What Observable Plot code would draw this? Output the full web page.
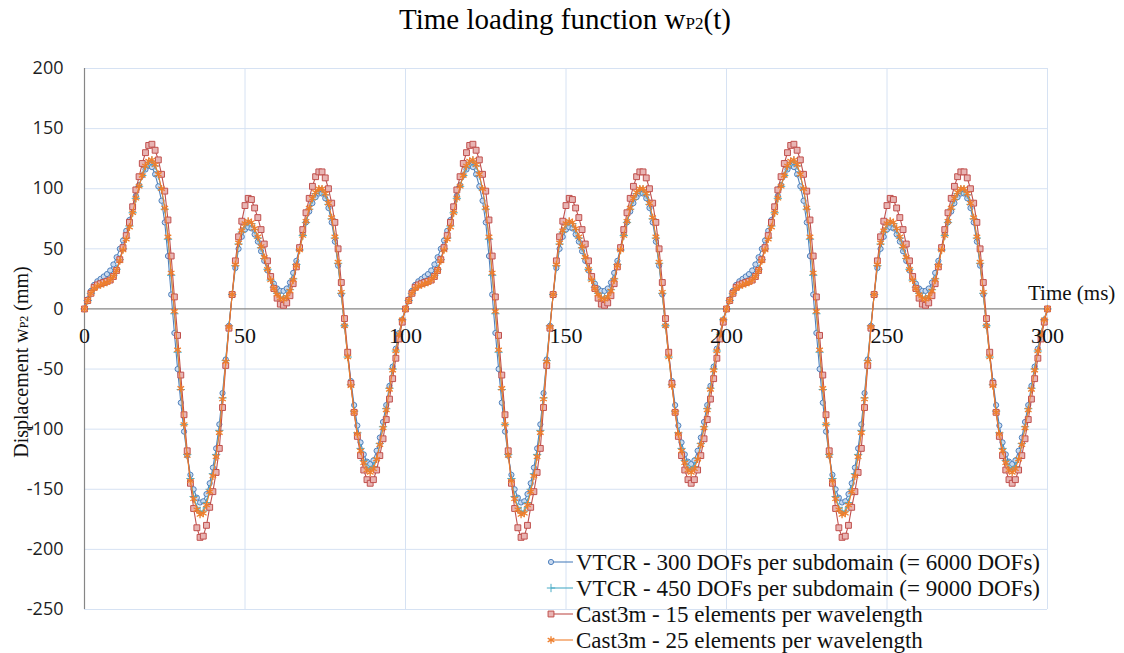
<!DOCTYPE html>
<html><head><meta charset="utf-8">
<script src="https://cdn.jsdelivr.net/npm/d3@7"></script>
<script src="https://cdn.jsdelivr.net/npm/@observablehq/plot@0.6"></script>
<style>body{margin:0;background:#fff} svg{display:block}</style>
</head><body><div id="chart"></div>
<script>
const seriesNames = [
  "VTCR - 300 DOFs per subdomain (= 6000 DOFs)",
  "VTCR - 450 DOFs per subdomain (= 9000 DOFs)",
  "Cast3m - 15 elements per wavelength",
  "Cast3m - 25 elements per wavelength"
];
const xTicks = [0, 50, 100, 150, 200, 250, 300];
const yTicks = [200, 150, 100, 50, 0, -50, -100, -150, -200, -250];

// time step 1 ms, t = 0..300
const vtcr300 = [
0,8,15,20,23,25,27,29,32,37,43,50,57,65,74,84,94,103,111,116,119,118,112,102,90,72,44,12,-20,-50,-78,-102,-122,-138,-150,-157,-161,-160,-154,-145,-132,-116,-96,-70,-42,-14,12,34,50,60,66,68,67,62,56,48,40,32,26,21,17,15,15,17,22,30,40,51,62,72,81,88,93,96,96,92,84,72,56,36,12,-14,-38,-60,-80,-97,-111,-121,-127,-129,-126,-118,-107,-94,-80,-64,-48,-33,-20,-9,
0,8,15,20,23,25,27,29,32,37,43,50,57,65,74,84,94,103,111,116,119,118,112,102,90,72,44,12,-20,-50,-78,-102,-122,-138,-150,-157,-161,-160,-154,-145,-132,-116,-96,-70,-42,-14,12,34,50,60,66,68,67,62,56,48,40,32,26,21,17,15,15,17,22,30,40,51,62,72,81,88,93,96,96,92,84,72,56,36,12,-14,-38,-60,-80,-97,-111,-121,-127,-129,-126,-118,-107,-94,-80,-64,-48,-33,-20,-9,
0,8,15,20,23,25,27,29,32,37,43,50,57,65,74,84,94,103,111,116,119,118,112,102,90,72,44,12,-20,-50,-78,-102,-122,-138,-150,-157,-161,-160,-154,-145,-132,-116,-96,-70,-42,-14,12,34,50,60,66,68,67,62,56,48,40,32,26,21,17,15,15,17,22,30,40,51,62,72,81,88,93,96,96,92,84,72,56,36,12,-14,-38,-60,-80,-97,-111,-121,-127,-129,-126,-118,-107,-94,-80,-64,-48,-33,-20,-9,
0];
const vtcr450 = [
0,7,13,17,20,21,22,23,25,28,33,41,50,59,69,80,92,102,111,118,122,123,119,111,99,83,58,28,-4,-36,-67,-96,-121,-141,-156,-165,-169,-168,-161,-150,-137,-121,-101,-74,-43,-14,12,36,54,64,70,72,71,66,59,51,42,33,24,18,13,10,9,11,16,25,37,49,61,72,83,91,96,99,99,95,87,75,59,38,13,-14,-40,-63,-85,-103,-116,-126,-132,-134,-131,-124,-112,-98,-83,-66,-50,-35,-21,-9,
0,7,13,17,20,21,22,23,25,28,33,41,50,59,69,80,92,102,111,118,122,123,119,111,99,83,58,28,-4,-36,-67,-96,-121,-141,-156,-165,-169,-168,-161,-150,-137,-121,-101,-74,-43,-14,12,36,54,64,70,72,71,66,59,51,42,33,24,18,13,10,9,11,16,25,37,49,61,72,83,91,96,99,99,95,87,75,59,38,13,-14,-40,-63,-85,-103,-116,-126,-132,-134,-131,-124,-112,-98,-83,-66,-50,-35,-21,-9,
0,7,13,17,20,21,22,23,25,28,33,41,50,59,69,80,92,102,111,118,122,123,119,111,99,83,58,28,-4,-36,-67,-96,-121,-141,-156,-165,-169,-168,-161,-150,-137,-121,-101,-74,-43,-14,12,36,54,64,70,72,71,66,59,51,42,33,24,18,13,10,9,11,16,25,37,49,61,72,83,91,96,99,99,95,87,75,59,38,13,-14,-40,-63,-85,-103,-116,-126,-132,-134,-131,-124,-112,-98,-83,-66,-50,-35,-21,-9,
0];
const cast15 = [
0,7,13,18,20,21,22,23,24,27,32,41,51,61,72,85,99,110,121,130,136,137,132,124,112,98,74,44,10,-22,-55,-88,-118,-145,-166,-182,-190,-189,-180,-165,-152,-136,-116,-82,-47,-16,12,40,60,73,86,92,91,84,76,66,54,40,27,17,9,4,3,5,11,21,35,51,66,80,92,102,110,114,114,109,100,88,72,50,22,-8,-36,-62,-86,-106,-122,-134,-142,-145,-142,-134,-122,-108,-92,-75,-58,-41,-25,-11,
0,7,13,18,20,21,22,23,24,27,32,41,51,61,72,85,99,110,121,130,136,137,132,124,112,98,74,44,10,-22,-55,-88,-118,-145,-166,-182,-190,-189,-180,-165,-152,-136,-116,-82,-47,-16,12,40,60,73,86,92,91,84,76,66,54,40,27,17,9,4,3,5,11,21,35,51,66,80,92,102,110,114,114,109,100,88,72,50,22,-8,-36,-62,-86,-106,-122,-134,-142,-145,-142,-134,-122,-108,-92,-75,-58,-41,-25,-11,
0,7,13,18,20,21,22,23,24,27,32,41,51,61,72,85,99,110,121,130,136,137,132,124,112,98,74,44,10,-22,-55,-88,-118,-145,-166,-182,-190,-189,-180,-165,-152,-136,-116,-82,-47,-16,12,40,60,73,86,92,91,84,76,66,54,40,27,17,9,4,3,5,11,21,35,51,66,80,92,102,110,114,114,109,100,88,72,50,22,-8,-36,-62,-86,-106,-122,-134,-142,-145,-142,-134,-122,-108,-92,-75,-58,-41,-25,-11,
0];
const cast25 = [
0,7,13,17,19,20,21,22,24,27,32,40,49,58,68,80,92,102,111,119,123,124,120,112,100,84,60,30,-2,-34,-66,-96,-122,-143,-158,-167,-171,-170,-163,-152,-139,-123,-103,-75,-44,-15,12,37,55,65,71,73,72,67,60,52,43,33,24,17,12,9,8,10,15,24,36,49,61,73,84,92,97,100,100,96,88,76,60,39,14,-14,-40,-64,-86,-104,-118,-128,-134,-136,-133,-125,-113,-99,-84,-67,-51,-35,-21,-9,
0,7,13,17,19,20,21,22,24,27,32,40,49,58,68,80,92,102,111,119,123,124,120,112,100,84,60,30,-2,-34,-66,-96,-122,-143,-158,-167,-171,-170,-163,-152,-139,-123,-103,-75,-44,-15,12,37,55,65,71,73,72,67,60,52,43,33,24,17,12,9,8,10,15,24,36,49,61,73,84,92,97,100,100,96,88,76,60,39,14,-14,-40,-64,-86,-104,-118,-128,-134,-136,-133,-125,-113,-99,-84,-67,-51,-35,-21,-9,
0,7,13,17,19,20,21,22,24,27,32,40,49,58,68,80,92,102,111,119,123,124,120,112,100,84,60,30,-2,-34,-66,-96,-122,-143,-158,-167,-171,-170,-163,-152,-139,-123,-103,-75,-44,-15,12,37,55,65,71,73,72,67,60,52,43,33,24,17,12,9,8,10,15,24,36,49,61,73,84,92,97,100,100,96,88,76,60,39,14,-14,-40,-64,-86,-104,-118,-128,-134,-136,-133,-125,-113,-99,-84,-67,-51,-35,-21,-9,
0];

const styles = [
  {values: vtcr300, color: "#4F81BD", symbol: "circle", fill: "#c9d9ef", r: 2.6, sw: 1},
  {values: vtcr450, color: "#4BACC6", symbol: "plus", fill: "none", r: 2.8, sw: 1},
  {values: cast15, color: "#C0504D", symbol: "square", fill: "#e8b4b3", r: 3.3, sw: 1},
  {values: cast25, color: "#EE7F2D", symbol: "asterisk", fill: "none", r: 3.6, sw: 1.3}
];

const seriesMarks = styles.flatMap((s, k) => {
  const pts = s.values.map((v, i) => ({t: i, v, name: seriesNames[k]}));
  return [
    Plot.line(pts, {x: "t", y: "v", stroke: s.color, strokeWidth: 1.1}),
    Plot.dot(pts, {x: "t", y: "v", symbol: () => s.symbol, r: s.r, stroke: s.color, fill: s.fill, strokeWidth: s.sw})
  ];
});

const plot = Plot.plot({
  width: 1124, height: 653,
  marginLeft: 84, marginRight: 77, marginTop: 68, marginBottom: 44,
  x: {domain: [0, 300], axis: null},
  y: {domain: [-250, 200], axis: null},
  symbol: {type: "identity"},
  style: {background: "white", overflow: "visible"},
  marks: [
    Plot.ruleY(yTicks.filter(d => d !== 0), {y: d => d, stroke: "#d6e2f3", strokeWidth: 1}),
    Plot.ruleX(xTicks.filter(d => d !== 0), {x: d => d, stroke: "#d6e2f3", strokeWidth: 1}),
    Plot.ruleY([0], {y: d => d, stroke: "#868686", strokeWidth: 1.2}),
    Plot.ruleX([0], {x: d => d, stroke: "#868686", strokeWidth: 1.2}),
    ...seriesMarks,
    Plot.text(yTicks, {x: () => 0, y: d => d, text: d => String(d), textAnchor: "end", dx: -21,
      fontSize: 18, fontFamily: "Open Sans", fill: "#1e1e1e"}),
    Plot.text(xTicks, {x: d => d, y: () => 0, text: d => String(d), dy: 27,
      fontSize: 22, fontFamily: "Liberation Serif", fill: "#111"})
  ]
});

const svg = d3.select(plot);
const serif = "'Liberation Serif', serif";

// title
const title = svg.append("text").attr("x", 565).attr("y", 29).attr("text-anchor", "middle")
  .attr("fill", "#000").style("font-family", serif).style("font-size", "29px");
title.append("tspan").text("Time loading function w");
title.append("tspan").style("font-size", "17px").text("P2");
title.append("tspan").text("(t)");

// y axis title
const yl = svg.append("text").attr("transform", "translate(28,362) rotate(-90)").attr("text-anchor", "middle")
  .attr("fill", "#111").style("font-family", serif).style("font-size", "20px");
yl.append("tspan").text("Displacement w");
yl.append("tspan").style("font-size", "12px").text("P2");
yl.append("tspan").text(" (mm)");

// x axis title
svg.append("text").attr("x", 1028).attr("y", 300).attr("text-anchor", "start").attr("fill", "#111")
  .style("font-family", serif).style("font-size", "21px").text("Time (ms)");

// legend
const legY = [562, 588, 614, 640];
styles.forEach((s, k) => {
  const g = svg.append("g");
  g.append("line").attr("x1", 551).attr("x2", 573).attr("y1", legY[k]).attr("y2", legY[k])
    .attr("stroke", s.color).attr("stroke-width", 1.1);
  const sym = {circle: d3.symbolCircle, plus: d3.symbolPlus, square: d3.symbolSquare, asterisk: d3.symbolAsterisk}[s.symbol];
  g.append("path").attr("transform", `translate(551,${legY[k]})`)
    .attr("d", d3.symbol(sym, s.r * s.r * Math.PI)())
    .attr("stroke", s.color).attr("fill", s.fill).attr("stroke-width", s.sw);
  g.append("text").attr("x", 576).attr("y", legY[k]).attr("dy", "0.35em").attr("text-anchor", "start").attr("fill", "#111")
    .style("font-family", serif).style("font-size", "23px").text(seriesNames[k]);
});

document.getElementById("chart").appendChild(plot);
</script>
</body></html>
